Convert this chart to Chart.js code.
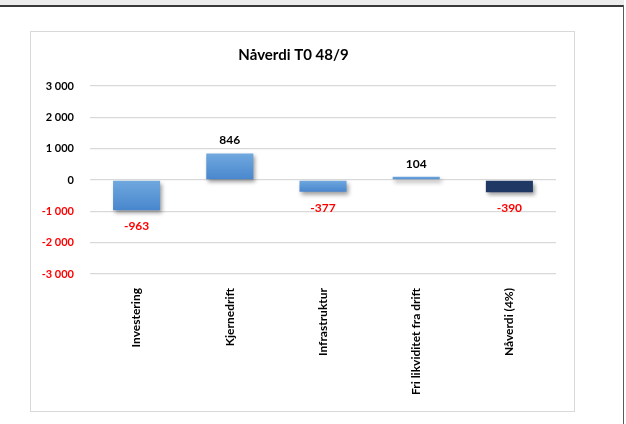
<!DOCTYPE html>
<html>
<head>
<meta charset="utf-8">
<script src="https://cdn.jsdelivr.net/npm/chart.js@4"></script>
<style>
    html, body { margin: 0; padding: 0; background: #fff; }
    body { width: 626px; height: 424px; position: relative; overflow: hidden; }
    .top-strip { position: absolute; left: 0; top: 0; width: 624px; height: 5px; background: #ececec; border-bottom: 2px solid #3a3a3a; }
    .right-edge { position: absolute; left: 623px; top: 5px; width: 1px; height: 419px; background: #5a5a5a; }
    .chart-box { position: absolute; left: 30px; top: 31px; width: 543px; height: 379px; border: 1px solid #d9d9d9; }
    canvas { display: block; }
</style>
</head>
<body>
<div class="top-strip"></div>
<div class="right-edge"></div>
<div class="chart-box">
    <canvas id="npvChart" width="543" height="379"></canvas>
</div>

<script>
// Nåverdi-komponenter (MNOK)
const categories = ['Investering', 'Kjernedrift', 'Infrastruktur', 'Fri likviditet fra drift', 'Nåverdi (4%)'];
const values = [-963, 846, -377, 104, -390];
const yTicks = [-3000, -2000, -1000, 0, 1000, 2000, 3000];

const FONT = 'Lato, "Open Sans", sans-serif';
const RED = '#ff0000';

// Tall med mellomrom som tusenskille: 3 000, -1 000
const fmt = (v) => {
    const s = Math.abs(v).toString().replace(/\B(?=(\d{3})+(?!\d))/g, ' ');
    return (v < 0 ? '-' : '') + s;
};

// Blå gradient per søyle, mørk blå for summen
const barFill = (c) => {
    const chart = c.chart;
    const last = c.dataIndex === values.length - 1;
    if (last) return '#203864';
    if (!chart.chartArea || !chart.scales.y) return '#5b9bd5';
    const y = chart.scales.y;
    const v = values[c.dataIndex];
    const top = y.getPixelForValue(Math.max(v, 0));
    const bot = y.getPixelForValue(Math.min(v, 0));
    const g = chart.ctx.createLinearGradient(0, top, 0, Math.max(bot, top + 1));
    g.addColorStop(0, '#71a9df');
    g.addColorStop(1, '#4886cd');
    return g;
};

const barShadow = {
    id: 'barShadow',
    beforeDatasetDraw(chart) {
        const ctx = chart.ctx;
        ctx.save();
        ctx.shadowColor = 'rgba(0,0,0,0.38)';
        ctx.shadowBlur = 4;
        ctx.shadowOffsetX = 2;
        ctx.shadowOffsetY = 3;
    },
    afterDatasetDraw(chart) {
        chart.ctx.restore();
    }
};

const valueLabels = {
    id: 'valueLabels',
    afterDatasetsDraw(chart) {
        const ctx = chart.ctx;
        const meta = chart.getDatasetMeta(0);
        ctx.save();
        ctx.font = 'bold 12px ' + FONT;
        ctx.textAlign = 'center';
        ctx.textBaseline = 'middle';
        meta.data.forEach((bar, i) => {
            const v = values[i];
            const zero = chart.scales.y.getPixelForValue(0);
            if (v >= 0) {
                ctx.fillStyle = '#000';
                ctx.fillText(fmt(v), bar.x, Math.min(bar.y, zero) - 13);
            } else {
                ctx.fillStyle = RED;
                ctx.fillText(fmt(v), bar.x, Math.max(bar.y, zero) + 16);
            }
        });
        ctx.restore();
    }
};

new Chart(document.getElementById('npvChart'), {
    type: 'bar',
    data: {
        labels: categories,
        datasets: [{
            data: values,
            backgroundColor: barFill,
            borderWidth: 0,
            barPercentage: 0.505,
            categoryPercentage: 1
        }]
    },
    options: {
        responsive: false,
        animation: false,
        events: [],
        layout: { padding: { left: 0, right: 18, top: 0, bottom: 0 } },
        plugins: {
            legend: { display: false },
            tooltip: { enabled: false },
            title: {
                display: true,
                text: 'Nåverdi T0 48/9',
                color: '#000',
                font: { family: FONT, size: 15, weight: 'bold', lineHeight: 1.2 },
                padding: { top: 14, bottom: 22 }
            }
        },
        scales: {
            x: {
                grid: { display: false },
                border: { display: false },
                ticks: {
                    color: '#000',
                    font: { family: FONT, size: 12, weight: 'bold' },
                    minRotation: 90,
                    maxRotation: 90,
                    autoSkip: false,
                    padding: 6
                },
                afterFit(scale) { scale.height = 137; }
            },
            y: {
                min: -3000,
                max: 3000,
                afterBuildTicks(scale) { scale.ticks = yTicks.map(v => ({ value: v })); },
                grid: { color: '#d9d9d9', lineWidth: 1.3, drawTicks: false },
                border: { display: false },
                ticks: {
                    padding: 16,
                    color: (c) => c.tick.value < 0 ? RED : '#000',
                    font: { family: FONT, size: 11, weight: 'bold' },
                    callback: (v) => fmt(v)
                },
                afterFit(scale) { scale.width = 59; }
            }
        }
    },
    plugins: [barShadow, valueLabels]
});
</script>
</body>
</html>
